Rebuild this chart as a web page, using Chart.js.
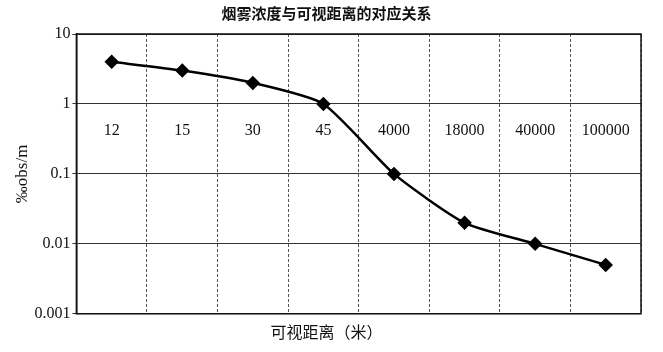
<!DOCTYPE html>
<html>
<head>
<meta charset="utf-8">
<script src="https://cdn.jsdelivr.net/npm/chart.js@4.4.1/dist/chart.umd.min.js"></script>
<style>
  html, body { margin: 0; padding: 0; background: #fff; }
  #wrap { width: 663px; height: 352px; }
</style>
</head>
<body>
<div id="wrap"><canvas id="smoke-chart"></canvas></div>
<script>
// distance categories (metres) and smoke density
const distances = ['12', '15', '30', '45', '4000', '18000', '40000', '100000'];
const density = [4, 3, 2, 1, 0.1, 0.02, 0.01, 0.005];
const yTicks = [10, 1, 0.1, 0.01, 0.001];

// frame around plot area
const framePlugin = {
    id: 'frame',
    afterDraw(chart) {
        const a = chart.chartArea;
        const c = chart.ctx;
        c.save();
        c.strokeStyle = '#111';
        c.lineWidth = 1.5;
        c.strokeRect(a.left, a.top, a.right - a.left, a.bottom - a.top);
        c.restore();
    }
};

const ctx = document.getElementById('smoke-chart').getContext('2d');
new Chart(ctx, {
    type: 'line',
    data: {
        labels: distances,
        datasets: [{
            data: density,
            borderColor: '#000',
            backgroundColor: '#000',
            borderWidth: 2.5,
            pointStyle: 'rectRot',
            pointRadius: 5.5,
            tension: 0.2,
            fill: false
        }]
    },
    options: {
        responsive: true,
        maintainAspectRatio: false,
        animation: false,
        layout: { padding: { left: 12, right: 22 } },
        plugins: {
            legend: { display: false },
            tooltip: { enabled: false },
            title: {
                display: true,
                text: '烟雾浓度与可视距离的对应关系',
                color: '#111',
                font: { family: '"Noto Sans CJK SC"', size: 15, weight: 'bold' },
                padding: { top: 4, bottom: 12 }
            },
            subtitle: {
                display: true,
                position: 'bottom',
                text: '可视距离（米）',
                color: '#111',
                font: { family: '"Noto Sans CJK SC"', size: 16 },
                padding: { top: 9, bottom: 10 }
            }
        },
        scales: {
            x: {
                type: 'category',
                position: { y: 1 },
                offset: true,
                grid: {
                    offset: true,
                    color: '#555',
                    lineWidth: 1,
                    drawTicks: false,
                    tickBorderDash: [4, 2]
                },
                border: { display: true, color: '#333', dash: [3, 2] },
                ticks: {
                    color: '#111',
                    padding: 17,
                    maxRotation: 0,
                    font: { family: '"Liberation Serif"', size: 16 }
                }
            },
            y: {
                type: 'logarithmic',
                min: 0.001,
                max: 10,
                afterBuildTicks(scale) {
                    scale.ticks = yTicks.map(v => ({ value: v }));
                },
                grid: { color: '#333', lineWidth: 1, drawTicks: true, tickLength: 4 },
                border: { display: true, color: '#111', width: 1.5 },
                ticks: {
                    color: '#111',
                    padding: 2,
                    font: { family: '"Liberation Serif"', size: 16 },
                    callback: v => String(v)
                },
                title: {
                    display: true,
                    text: '‰obs/m',
                    color: '#111',
                    font: { family: '"Liberation Serif"', size: 17 },
                    padding: { top: 0, bottom: 0 }
                }
            }
        }
    },
    plugins: [framePlugin]
});
</script>
</body>
</html>
